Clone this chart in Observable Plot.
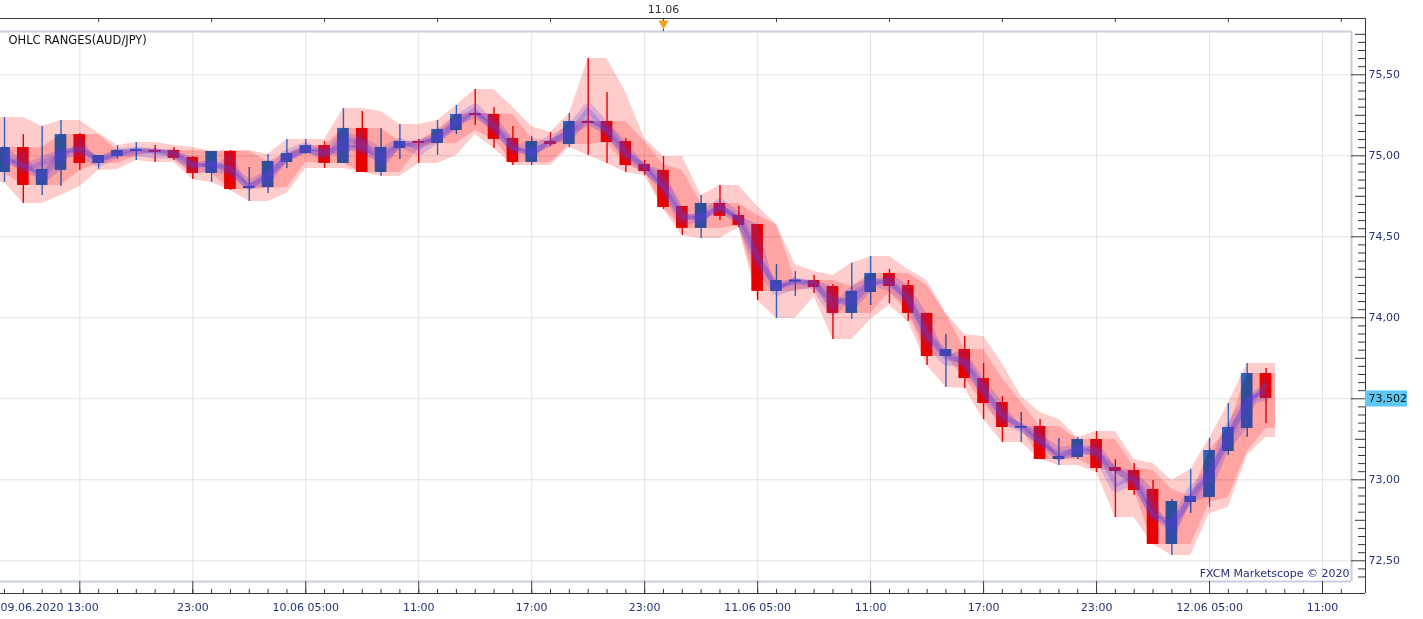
<!DOCTYPE html>
<html>
<head>
<meta charset="utf-8">
<script src="https://cdn.jsdelivr.net/npm/d3@7"></script>
<script src="https://cdn.jsdelivr.net/npm/@observablehq/plot@0.6"></script>
<style>
  html, body { margin: 0; padding: 0; background: #fff; }
  svg { display: block; }
</style>
</head>
<body>
<div id="chart"></div>
<script>
// ---------- data ----------
const title = "OHLC RANGES(AUD/JPY)";
const copyright = "FXCM Marketscope © 2020";
const firstBar = "2020-06-09T13:00Z"; // hourly bars

const open = [74.897, 75.051, 74.817, 74.910, 75.131, 74.953, 74.996, 75.027, 75.033, 75.033,
  74.990, 74.891, 75.027, 74.798, 74.804, 74.959, 75.014, 75.063, 74.953, 75.169,
  74.897, 75.045, 75.088, 75.076, 75.156, 75.261, 75.255, 75.107, 74.959, 75.088,
  75.070, 75.212, 75.212, 75.088, 74.947, 74.910, 74.687, 74.552, 74.706, 74.632,
  74.576, 74.163, 74.226, 74.230, 74.193, 74.027, 74.156, 74.274, 74.199, 74.027,
  73.761, 73.804, 73.625, 73.477, 73.323, 73.329, 73.125, 73.138, 73.249, 73.076,
  73.057, 72.940, 72.601, 72.860, 72.891, 73.175, 73.317, 73.656];
const high = [75.236, 75.131, 75.181, 75.218, 75.137, 75.002, 75.063, 75.082, 75.063, 75.051,
  74.996, 75.027, 75.033, 74.928, 75.008, 75.101, 75.101, 75.088, 75.292, 75.274,
  75.169, 75.193, 75.101, 75.218, 75.311, 75.409, 75.298, 75.181, 75.119, 75.144,
  75.261, 75.601, 75.391, 75.107, 74.971, 74.996, 74.687, 74.755, 74.817, 74.687,
  74.576, 74.329, 74.286, 74.261, 74.206, 74.336, 74.379, 74.298, 74.230, 74.027,
  73.897, 73.885, 73.718, 73.514, 73.415, 73.372, 73.255, 73.261, 73.298, 73.125,
  73.101, 72.996, 72.878, 73.064, 73.255, 73.471, 73.718, 73.687];
const low = [74.835, 74.706, 74.755, 74.811, 74.910, 74.916, 74.977, 74.971, 74.959, 74.971,
  74.854, 74.835, 74.786, 74.718, 74.767, 74.922, 75.010, 74.922, 74.953, 74.897,
  74.873, 74.977, 74.953, 75.002, 75.131, 75.187, 75.045, 74.940, 74.940, 75.057,
  75.051, 75.002, 74.953, 74.897, 74.879, 74.669, 74.508, 74.490, 74.601, 74.558,
  74.107, 73.996, 74.131, 74.150, 73.866, 73.990, 74.076, 74.088, 73.977, 73.706,
  73.570, 73.564, 73.372, 73.230, 73.230, 73.125, 73.088, 73.125, 73.045, 72.767,
  72.903, 72.601, 72.533, 72.792, 72.829, 73.150, 73.261, 73.347];
const close = [75.051, 74.817, 74.916, 75.131, 74.953, 75.002, 75.033, 75.039, 75.027, 74.984,
  74.891, 75.027, 74.792, 74.811, 74.965, 75.014, 75.063, 74.953, 75.169, 74.897,
  75.051, 75.088, 75.076, 75.163, 75.255, 75.249, 75.101, 74.959, 75.088, 75.070,
  75.212, 75.206, 75.082, 74.940, 74.903, 74.681, 74.552, 74.706, 74.626, 74.570,
  74.163, 74.230, 74.232, 74.187, 74.027, 74.163, 74.274, 74.193, 74.027, 73.761,
  73.804, 73.625, 73.471, 73.323, 73.329, 73.125, 73.144, 73.249, 73.070, 73.051,
  72.934, 72.601, 72.866, 72.897, 73.181, 73.323, 73.656, 73.502];

const yTickValues = [72.5, 73.0, 73.5, 74.0, 74.5, 75.0, 75.5];
const yTickLabels = ["72,50", "73,00", "73,50", "74,00", "74,50", "75,00", "75,50"];
const xTickTimes = ["2020-06-09T13:00Z", "2020-06-09T23:00Z", "2020-06-10T05:00Z", "2020-06-10T11:00Z",
  "2020-06-10T17:00Z", "2020-06-10T23:00Z", "2020-06-11T05:00Z", "2020-06-11T11:00Z",
  "2020-06-11T17:00Z", "2020-06-11T23:00Z", "2020-06-12T05:00Z", "2020-06-12T11:00Z"];
const xTickLabels = ["09.06.2020 13:00", "23:00", "10.06 05:00", "11:00", "17:00", "23:00",
  "11.06 05:00", "11:00", "17:00", "23:00", "12.06 05:00", "11:00"];
const dayMarkerTime = "2020-06-11T00:00Z";
const dayMarkerLabel = "11.06";
const lastPriceLabel = "73,502";

// ---------- derived ----------
const HOUR = 3600e3;
const t0 = new Date(firstBar);
const bars = open.map((o, i) => ({
  t: new Date(+t0 + i * HOUR), o, h: high[i], l: low[i], c: close[i], up: close[i] >= o
}));
const xMin = new Date(+t0 - 0.2124 * HOUR), xMax = new Date(+t0 + 71.54 * HOUR);
const yMin = 72.3722, yMax = 75.7673;

const UP = "#2e7bf0", DN = "#e60000";
const colorOf = d => d.up ? UP : DN;
const HALF = 0.31 * HOUR;

// 2-bar ranges for the indicator bands
function band(lo, hi) {
  const pts = bars.map((b, i) => {
    const p = bars[Math.max(0, i - 1)];
    return {t: b.t, y1: Math.min(lo(p), lo(b)), y2: Math.max(hi(p), hi(b))};
  });
  pts.unshift({...pts[0], t: new Date(+pts[0].t - 0.5 * HOUR)});
  pts.push({...pts[pts.length - 1], t: new Date(+pts[pts.length - 1].t + 0.5 * HOUR)});
  return pts;
}
const hlBand = band(b => b.l, b => b.h);
const ocBand = band(b => Math.min(b.o, b.c), b => Math.max(b.o, b.c));
const midA = bars.map(b => ({t: b.t, y1: b.o, y2: (b.o + b.c) / 2}));
const midB = bars.map(b => ({t: b.t, y1: (b.o + b.c) / 2, y2: (b.h + b.l) / 2}));

const hours = d3.utcHours(xMin, xMax);
const gridTimes = hours.filter(d => d.getUTCHours() % 6 === 5);
const topTicks = hours.filter(d => d.getUTCHours() % 6 === 0);
const fine = d3.range(Math.ceil(yMin * 20), Math.floor(yMax * 20) + 1);
const minorY = fine.filter(k => k % 5 !== 0).map(k => k / 20);
const medY = fine.filter(k => k % 5 === 0 && k % 10 !== 0).map(k => k / 20);

const last = bars[bars.length - 1];
// the last-price box hides the axis label it sits on
const yLabels = yTickValues.map((v, i) => ({v, label: yTickLabels[i]}))
  .filter(d => Math.abs(d.v - last.c) > 0.06);
const xLabels = xTickTimes.map((s, i) => ({t: new Date(s), label: xTickLabels[i]}));
const marker = [{t: new Date(dayMarkerTime), label: dayMarkerLabel}];

const AX = "#3a3a3a", TXT = "#26327a", GRID = "#e3e3e3", BORDER = "#c8d0dc", PURPLE = "#5a3cdc";

const chart = Plot.plot({
  width: 1423,
  height: 619,
  marginLeft: 0,
  marginRight: 72,
  marginTop: 31,
  marginBottom: 38,
  x: {type: "utc", domain: [xMin, xMax], axis: null},
  y: {domain: [yMin, yMax], axis: null},
  color: {type: "identity"},
  style: {fontFamily: "DejaVu Sans, Verdana, sans-serif", fontSize: "11px", background: "#fff", overflow: "visible"},
  marks: [
    // grid
    Plot.ruleY(yTickValues, {stroke: GRID, strokeWidth: 1}),
    Plot.ruleX(gridTimes, {stroke: GRID, strokeWidth: 1}),
    // candles
    Plot.ruleX(bars, {x: "t", y1: "l", y2: "h", stroke: colorOf, strokeWidth: 1.4}),
    Plot.rect(bars, {x1: d => new Date(+d.t - HALF), x2: d => new Date(+d.t + HALF), y1: "o", y2: "c", fill: colorOf}),
    Plot.ruleY(bars.filter(d => Math.abs(d.o - d.c) < 0.012), {
      y: d => (d.o + d.c) / 2, x1: d => new Date(+d.t - HALF), x2: d => new Date(+d.t + HALF),
      stroke: colorOf, strokeWidth: 2
    }),
    // indicator bands
    Plot.areaY(hlBand, {x: "t", y1: "y1", y2: "y2", fill: "#ffcccc", mixBlendMode: "multiply"}),
    Plot.areaY(ocBand, {x: "t", y1: "y1", y2: "y2", fill: "#ffcccc", mixBlendMode: "multiply"}),
    Plot.areaY(midB, {x: "t", y1: "y1", y2: "y2", fill: PURPLE, fillOpacity: 0.25}),
    Plot.areaY(midA, {x: "t", y1: "y1", y2: "y2", fill: PURPLE, fillOpacity: 0.25}),
    Plot.line(bars, {x: "t", y: d => (d.h + d.l) / 2, stroke: PURPLE, strokeWidth: 9, strokeOpacity: 0.22, strokeLinejoin: "miter"}),
    Plot.line(bars, {x: "t", y: d => (d.o + d.c) / 2, stroke: PURPLE, strokeWidth: 6, strokeOpacity: 0.28, strokeLinejoin: "miter"}),
    // plot border
    Plot.ruleY([yMax], {stroke: BORDER, strokeWidth: 2}),
    Plot.ruleY([yMin], {stroke: BORDER, strokeWidth: 2}),
    Plot.ruleX([xMax], {stroke: BORDER, strokeWidth: 2}),
    // outer axes lines
    Plot.ruleY([yMax], {dy: -13, insetRight: -14, stroke: AX}),
    Plot.ruleY([yMin], {dy: 12, insetRight: -14, stroke: AX}),
    Plot.ruleX([xMax], {dx: 14, insetTop: -13, insetBottom: -12, stroke: AX}),
    // top ticks
    Plot.ruleX(topTicks, {x: d => d, y1: yMax, y2: yMax, dy: -13, insetBottom: -4, stroke: AX}),
    // bottom ticks
    Plot.ruleX(hours, {x: d => d, y1: yMin, y2: yMin, dy: 12, insetTop: -4, stroke: AX}),
    Plot.ruleX(gridTimes, {x: d => d, y1: yMin, y2: yMin, insetBottom: -12, stroke: AX}),
    // right ticks
    Plot.ruleY(minorY, {y: d => d, x1: xMax, x2: xMax, dx: 14, insetLeft: -7, stroke: AX}),
    Plot.ruleY(medY, {y: d => d, x1: xMax, x2: xMax, dx: 14, insetLeft: -10, stroke: AX}),
    Plot.ruleY(yTickValues, {y: d => d, x1: xMax, x2: xMax, insetRight: -14, stroke: AX}),
    // right labels
    Plot.text(yLabels, {x: xMax, y: "v", text: "label", dx: 17, textAnchor: "start", fill: TXT, fontSize: 11}),
    // last price box
    Plot.ruleY([last], {y: "c", x1: xMax, x2: xMax, dx: 14, insetRight: -42, stroke: "#5bc8f5", strokeWidth: 16}),
    Plot.text([last], {x: xMax, y: "c", text: () => lastPriceLabel, dx: 17, textAnchor: "start", fill: "#111", fontSize: 11}),
    // bottom labels
    Plot.text(xLabels.slice(0, 1), {x: "t", y: yMin, text: "label", dy: 26, dx: -4, textAnchor: "start", fill: TXT, fontSize: 11}),
    Plot.text(xLabels.slice(1), {x: "t", y: yMin, text: "label", dy: 26, fill: TXT, fontSize: 11}),
    // day marker
    Plot.ruleX(marker, {x: "t", y1: yMax, y2: yMax, dy: -13, insetBottom: -13, stroke: AX}),
    Plot.dot(marker, {x: "t", y: yMax, dy: -8, symbol: "triangle", r: 3.8, rotate: 180, fill: "#f5a01e", stroke: "none"}),
    Plot.text(marker, {x: "t", y: yMax, text: "label", dy: -22, fill: "#333", fontSize: 11}),
    // title & copyright
    Plot.text([title], {x: xMin, y: yMax, text: d => d, dx: 8, dy: 9, textAnchor: "start", fill: "#111", fontSize: 11.5}),
    Plot.text([copyright], {x: xMax, y: yMin, text: d => d, dx: -2, dy: -8, textAnchor: "end", fill: TXT, fontSize: 11})
  ]
});
document.getElementById("chart").appendChild(chart);
</script>
</body>
</html>
